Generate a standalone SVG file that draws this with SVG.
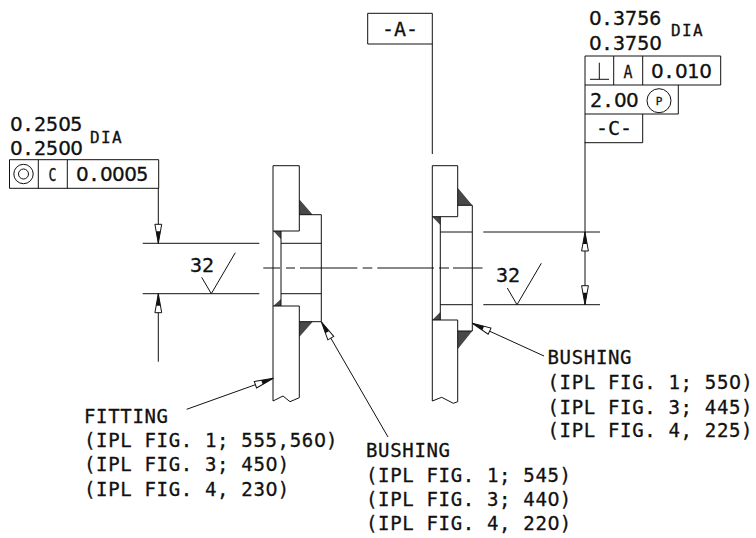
<svg xmlns="http://www.w3.org/2000/svg" width="756" height="538" viewBox="0 0 756 538">
<style>
text{font-family:"DejaVu Sans Mono","Liberation Mono",monospace;fill:#111;stroke:#111;stroke-width:.3px;font-size:19px;letter-spacing:.66px}
.z{font-family:"DejaVu Sans",sans-serif;letter-spacing:.06px}
.big{font-size:20px;letter-spacing:0}
.big .z{letter-spacing:-.7px}
.dia{font-size:16px;letter-spacing:1.4px}
.sm{font-size:18px;letter-spacing:0}
.p{font-size:11px;letter-spacing:0}
.l{fill:none;stroke:#111;stroke-width:1}
.w{fill:#484848;stroke:none}
</style>
<defs>
<g id="ah"><path d="M0,0L19,-3.4V3.4Z" fill="#fff" stroke="#111" stroke-width="1"/><path d="M0,0L12,-2.2V2.2Z" fill="#111"/></g>
</defs>
<rect width="756" height="538" fill="#fff"/>
<g id="connectors">
<path class="l" d="M158.3,188V243.3M158.3,293.7V361.7M142.7,243.3H259.3M142.7,293.7H259.3"/>
<path class="l" d="M201.7,277.3L211.3,293.7L235.3,252.7M507.3,288L517,304.7L541.3,263.3"/>
<path class="l" d="M432.3,44V154M585,142V304.7M483.3,232H600M483.3,304.7H600"/>
<path class="l" d="M186.7,409.3L273.3,378.3M321.3,321.7L388,437M472.3,323.3L544,356"/>
<path class="l" d="M263.3,268H280M286,268H295M300,268H357.3M362.7,268H372.3M377.3,268H434M439,268H449M453,268H482.5"/>
<use href="#ah" transform="translate(158.3,243.3) rotate(-90)"/>
<use href="#ah" transform="translate(158.3,293.7) rotate(90)"/>
<use href="#ah" transform="translate(585,232) rotate(90)"/>
<use href="#ah" transform="translate(585,304.7) rotate(-90)"/>
<use href="#ah" transform="translate(273.3,378.3) rotate(160.3)"/>
<use href="#ah" transform="translate(321.3,321.7) rotate(60)"/>
<use href="#ah" transform="translate(472.3,323.3) rotate(24.5)"/>
</g>
<g id="fitting-left">
<path class="w" d="M299.3,199.3L312.7,214.7H299.3ZM299.3,321.7H312.7L299.3,337ZM273.3,231H281V239.3ZM273.3,306H281V299Z"/>
<path class="l" d="M273,401V165.7H299.3V231H273M273,306H299.3V397.7L290,401.7L283,396L273,401M299.3,214.7H321.3V321.7H299.3M281,231V306M281,243.3H321.3M281,293.7H321.3"/>
</g>
<g id="fitting-right">
<path class="w" d="M457.7,187.7L472.3,205.3H457.7ZM457.7,331H472.3L457.7,349.3ZM432.3,216.7H440.3V225ZM432.3,320H440.3V312Z"/>
<path class="l" d="M432.3,401V165.7H457.7V216.7H432.3M432.3,320H457.7V401.7L453.3,403.3L441.7,397.3L432.3,401M457.7,205.3H472.3V331H457.7M440.3,216.7V320M440.3,232H472.3M440.3,304.7H472.3"/>
</g>
<g id="frame-left">
<path class="l" d="M9.5,159.7H158.7V188.3H9.5ZM38.3,159.7V188.3M67.3,159.7V188.3"/>
<circle class="l" cx="23.5" cy="174" r="9.7"/><circle class="l" cx="23.5" cy="174" r="5"/>
<text class="sm" x="48.5" y="181" textLength="8" lengthAdjust="spacingAndGlyphs">C</text>
<text class="big" x="76" y="180.5"><tspan class="z">0</tspan>.<tspan class="z">000</tspan>5</text>
<text class="big" x="10" y="130.5"><tspan class="z">0</tspan>.25<tspan class="z">0</tspan>5</text>
<text class="big" x="10" y="155"><tspan class="z">0</tspan>.25<tspan class="z">00</tspan></text>
<text class="dia" x="90" y="143.3">DIA</text>
</g>
<g id="datum-a">
<path class="l" d="M367.7,13.3H432.3V44H367.7Z"/>
<text class="big" x="382" y="35.5">-A-</text>
</g>
<g id="frame-right">
<path class="l" d="M585,56H720.7V85H585ZM613.7,56V85M642.7,56V85M585,85V142.7H642.7V114M585,114H678.3V85"/>
<path class="l" d="M590,79.3H609M599.3,62.7V79.3"/>
<circle class="l" cx="659" cy="100.7" r="12"/>
<text class="sm" x="623.5" y="78" textLength="9" lengthAdjust="spacingAndGlyphs">A</text>
<text class="big" x="651" y="77.5"><tspan class="z">0</tspan>.<tspan class="z">0</tspan>1<tspan class="z">0</tspan></text>
<text class="big" x="590" y="107.3">2.<tspan class="z">00</tspan></text>
<text class="p" x="655.7" y="105">P</text>
<text class="big" x="596" y="135">-C-</text>
<text class="big" x="589" y="25"><tspan class="z">0</tspan>.3756</text>
<text class="big" x="589" y="49.5"><tspan class="z">0</tspan>.375<tspan class="z">0</tspan></text>
<text class="dia" x="671" y="36">DIA</text>
</g>
<g id="label-fitting">
<text x="84" y="422.7">FITTING</text>
<text x="84" y="446.5">(IPL FIG. 1; 555,56<tspan class="z">0</tspan>)</text>
<text x="84" y="470.7">(IPL FIG. 3; 45<tspan class="z">0</tspan>)</text>
<text x="84" y="496">(IPL FIG. 4, 23<tspan class="z">0</tspan>)</text>
</g>
<g id="label-bushing-1">
<text x="366" y="456.7">BUSHING</text>
<text x="366" y="481.7">(IPL FIG. 1; 545)</text>
<text x="366" y="505.7">(IPL FIG. 3; 44<tspan class="z">0</tspan>)</text>
<text x="366" y="530">(IPL FIG. 4, 22<tspan class="z">0</tspan>)</text>
</g>
<g id="label-bushing-2">
<text x="547.5" y="363.5">BUSHING</text>
<text x="547.5" y="389.3">(IPL FIG. 1; 55<tspan class="z">0</tspan>)</text>
<text x="547.5" y="414">(IPL FIG. 3; 445)</text>
<text x="547.5" y="437.3">(IPL FIG. 4, 225)</text>
</g>
<text class="big" x="190" y="272.3">32</text>
<text class="big" x="496" y="281.7">32</text>
</svg>
